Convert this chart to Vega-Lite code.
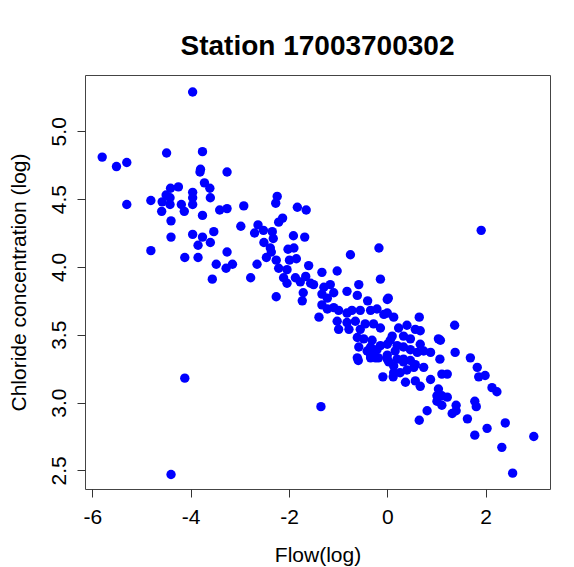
{
  "$schema": "https://vega.github.io/schema/vega-lite/v6.json",
  "autosize": "none",
  "width": 465,
  "height": 414,
  "padding": {"left": 85, "top": 75, "right": 24, "bottom": 78},
  "background": "white",
  "title": {
    "text": "Station 17003700302",
    "font": "Liberation Sans",
    "fontSize": 28,
    "fontWeight": "bold",
    "color": "black",
    "anchor": "middle",
    "offset": 14
  },
  "data": {
    "values": [
      {"flow": -3.96, "chloride": 5.29}, {"flow": -5.80, "chloride": 4.81}, {"flow": -5.51, "chloride": 4.74},
      {"flow": -5.30, "chloride": 4.77}, {"flow": -4.49, "chloride": 4.84}, {"flow": -3.76, "chloride": 4.85},
      {"flow": -3.80, "chloride": 4.72}, {"flow": -3.81, "chloride": 4.70}, {"flow": -3.26, "chloride": 4.70},
      {"flow": -3.72, "chloride": 4.62}, {"flow": -3.61, "chloride": 4.58}, {"flow": -3.60, "chloride": 4.51},
      {"flow": -3.96, "chloride": 4.55}, {"flow": -3.96, "chloride": 4.51}, {"flow": -3.96, "chloride": 4.46},
      {"flow": -4.25, "chloride": 4.59}, {"flow": -4.41, "chloride": 4.58}, {"flow": -4.50, "chloride": 4.53},
      {"flow": -4.42, "chloride": 4.51}, {"flow": -4.58, "chloride": 4.48}, {"flow": -4.81, "chloride": 4.49},
      {"flow": -5.30, "chloride": 4.46}, {"flow": -4.19, "chloride": 4.46}, {"flow": -4.42, "chloride": 4.46},
      {"flow": -3.41, "chloride": 4.42}, {"flow": -3.26, "chloride": 4.43}, {"flow": -4.59, "chloride": 4.41},
      {"flow": -4.13, "chloride": 4.41}, {"flow": -3.76, "chloride": 4.38}, {"flow": -4.40, "chloride": 4.34},
      {"flow": -4.40, "chloride": 4.22}, {"flow": -3.96, "chloride": 4.24}, {"flow": -3.76, "chloride": 4.22},
      {"flow": -3.85, "chloride": 4.16}, {"flow": -3.60, "chloride": 4.18}, {"flow": -3.53, "chloride": 4.26},
      {"flow": -4.81, "chloride": 4.12}, {"flow": -4.12, "chloride": 4.07}, {"flow": -3.85, "chloride": 4.07},
      {"flow": -3.26, "chloride": 4.11}, {"flow": -3.48, "chloride": 4.02}, {"flow": -3.28, "chloride": 3.99},
      {"flow": -3.15, "chloride": 4.02}, {"flow": -3.56, "chloride": 3.91}, {"flow": -4.12, "chloride": 3.18},
      {"flow": -4.40, "chloride": 2.47},
      {"flow": -2.92, "chloride": 4.45}, {"flow": -2.24, "chloride": 4.52}, {"flow": -2.27, "chloride": 4.47},
      {"flow": -1.83, "chloride": 4.44}, {"flow": -1.65, "chloride": 4.42}, {"flow": -2.98, "chloride": 4.30},
      {"flow": -2.63, "chloride": 4.31}, {"flow": -2.70, "chloride": 4.25}, {"flow": -2.52, "chloride": 4.27},
      {"flow": -2.34, "chloride": 4.26}, {"flow": -2.21, "chloride": 4.33}, {"flow": -2.13, "chloride": 4.36},
      {"flow": -2.32, "chloride": 4.21}, {"flow": -2.51, "chloride": 4.18}, {"flow": -1.91, "chloride": 4.23},
      {"flow": -1.68, "chloride": 4.22}, {"flow": -2.38, "chloride": 4.14}, {"flow": -2.36, "chloride": 4.11},
      {"flow": -2.02, "chloride": 4.13}, {"flow": -1.90, "chloride": 4.14}, {"flow": -2.46, "chloride": 4.07},
      {"flow": -2.65, "chloride": 4.02}, {"flow": -2.26, "chloride": 4.05}, {"flow": -1.99, "chloride": 4.05},
      {"flow": -1.85, "chloride": 4.06}, {"flow": -2.04, "chloride": 3.98}, {"flow": -1.33, "chloride": 3.96},
      {"flow": -1.02, "chloride": 3.97},
      {"flow": -0.75, "chloride": 4.09}, {"flow": -0.17, "chloride": 4.14}, {"flow": -1.60, "chloride": 4.01},
      {"flow": -2.11, "chloride": 3.92}, {"flow": -2.04, "chloride": 3.88}, {"flow": -1.87, "chloride": 3.92},
      {"flow": -1.77, "chloride": 3.89}, {"flow": -1.56, "chloride": 3.88}, {"flow": -1.50, "chloride": 3.87},
      {"flow": -0.58, "chloride": 3.87}, {"flow": -0.14, "chloride": 3.91}, {"flow": -1.71, "chloride": 3.81},
      {"flow": -1.73, "chloride": 3.75}, {"flow": -1.29, "chloride": 3.85}, {"flow": -1.16, "chloride": 3.87},
      {"flow": -1.33, "chloride": 3.80}, {"flow": -1.22, "chloride": 3.77}, {"flow": -1.09, "chloride": 3.81},
      {"flow": -0.82, "chloride": 3.82}, {"flow": -0.61, "chloride": 3.79}, {"flow": -0.40, "chloride": 3.75},
      {"flow": 0.00, "chloride": 3.76}, {"flow": -1.33, "chloride": 3.72}, {"flow": -1.22, "chloride": 3.69},
      {"flow": -1.09, "chloride": 3.70}, {"flow": -0.99, "chloride": 3.68}, {"flow": -1.39, "chloride": 3.63},
      {"flow": -0.82, "chloride": 3.66}, {"flow": -0.72, "chloride": 3.68}, {"flow": -0.55, "chloride": 3.68},
      {"flow": -0.34, "chloride": 3.68}, {"flow": -0.21, "chloride": 3.69}, {"flow": -0.07, "chloride": 3.65},
      {"flow": -1.02, "chloride": 3.60}, {"flow": -0.99, "chloride": 3.54}, {"flow": -0.82, "chloride": 3.59},
      {"flow": -0.65, "chloride": 3.60}, {"flow": -0.55, "chloride": 3.54}, {"flow": -0.45, "chloride": 3.58},
      {"flow": -0.28, "chloride": 3.58}, {"flow": -0.14, "chloride": 3.55}, {"flow": -0.61, "chloride": 3.48},
      {"flow": -0.48, "chloride": 3.47}, {"flow": -0.31, "chloride": 3.46}, {"flow": -0.58, "chloride": 3.41},
      {"flow": -0.41, "chloride": 3.38}, {"flow": -0.21, "chloride": 3.39}, {"flow": -0.61, "chloride": 3.33},
      {"flow": -0.24, "chloride": 3.33}, {"flow": 0.00, "chloride": 3.35},
      {"flow": 0.02, "chloride": 3.77}, {"flow": 0.00, "chloride": 3.66}, {"flow": 0.13, "chloride": 3.63},
      {"flow": 0.65, "chloride": 3.63}, {"flow": 1.37, "chloride": 3.57}, {"flow": 0.23, "chloride": 3.55},
      {"flow": 0.40, "chloride": 3.57}, {"flow": 0.57, "chloride": 3.54}, {"flow": 0.67, "chloride": 3.53},
      {"flow": 0.10, "chloride": 3.49}, {"flow": 0.33, "chloride": 3.49}, {"flow": 0.47, "chloride": 3.47},
      {"flow": 1.04, "chloride": 3.47}, {"flow": -0.14, "chloride": 3.42}, {"flow": 0.06, "chloride": 3.46},
      {"flow": 0.20, "chloride": 3.42}, {"flow": 0.33, "chloride": 3.41}, {"flow": 0.47, "chloride": 3.39},
      {"flow": 0.67, "chloride": 3.43}, {"flow": 0.61, "chloride": 3.37}, {"flow": 0.74, "chloride": 3.38},
      {"flow": 0.88, "chloride": 3.37}, {"flow": 1.38, "chloride": 3.37}, {"flow": 1.69, "chloride": 3.33},
      {"flow": -0.28, "chloride": 3.37}, {"flow": -0.18, "chloride": 3.33}, {"flow": 0.00, "chloride": 3.32},
      {"flow": 0.20, "chloride": 3.32}, {"flow": 0.33, "chloride": 3.32},
      {"flow": -0.34, "chloride": 3.41}, {"flow": 0.00, "chloride": 3.43}, {"flow": 0.16, "chloride": 3.38},
      {"flow": 1.08, "chloride": 3.46}, {"flow": 1.83, "chloride": 3.26}, {"flow": -0.34, "chloride": 3.35},
      {"flow": 0.03, "chloride": 3.30}, {"flow": 0.13, "chloride": 3.27}, {"flow": 0.33, "chloride": 3.30},
      {"flow": 0.47, "chloride": 3.31}, {"flow": 0.57, "chloride": 3.28}, {"flow": 0.74, "chloride": 3.26},
      {"flow": 0.13, "chloride": 3.22}, {"flow": 0.26, "chloride": 3.22}, {"flow": 0.40, "chloride": 3.24},
      {"flow": 0.54, "chloride": 3.26}, {"flow": 1.07, "chloride": 3.32}, {"flow": -0.09, "chloride": 3.19},
      {"flow": 0.12, "chloride": 3.19}, {"flow": 0.37, "chloride": 3.15}, {"flow": 0.57, "chloride": 3.16},
      {"flow": 0.67, "chloride": 3.12}, {"flow": 0.88, "chloride": 3.17}, {"flow": 1.11, "chloride": 3.21},
      {"flow": 1.22, "chloride": 3.21}, {"flow": 1.86, "chloride": 3.19}, {"flow": 1.99, "chloride": 3.20},
      {"flow": 2.13, "chloride": 3.11}, {"flow": 2.23, "chloride": 3.08}, {"flow": 1.04, "chloride": 3.10},
      {"flow": 1.01, "chloride": 3.05}, {"flow": 1.11, "chloride": 3.05}, {"flow": 1.22, "chloride": 3.04},
      {"flow": 1.01, "chloride": 3.01}, {"flow": 1.11, "chloride": 2.98}, {"flow": 1.40, "chloride": 2.98},
      {"flow": 1.40, "chloride": 2.94}, {"flow": 1.32, "chloride": 2.92}, {"flow": 1.78, "chloride": 3.01},
      {"flow": 1.81, "chloride": 2.97}, {"flow": 0.81, "chloride": 2.94}, {"flow": 0.65, "chloride": 2.87},
      {"flow": 1.63, "chloride": 2.88}, {"flow": 2.40, "chloride": 2.85}, {"flow": 2.03, "chloride": 2.81},
      {"flow": 1.78, "chloride": 2.76}, {"flow": 2.98, "chloride": 2.75}, {"flow": 2.33, "chloride": 2.67},
      {"flow": 2.55, "chloride": 2.48},
      {"flow": 1.91, "chloride": 4.27}, {"flow": -1.35, "chloride": 2.97}, {"flow": -2.78, "chloride": 3.92},
      {"flow": -2.26, "chloride": 3.78}, {"flow": -2.21, "chloride": 3.99}, {"flow": -1.66, "chloride": 3.93},
      {"flow": -0.78, "chloride": 3.54}, {"flow": -0.59, "chloride": 3.31}, {"flow": -0.34, "chloride": 3.33}
    ]
  },
  "mark": {"type": "point", "filled": true, "shape": "circle", "size": 88, "color": "#0000ff", "opacity": 1},
  "encoding": {
    "x": {
      "field": "flow",
      "type": "quantitative",
      "title": "Flow(log)",
      "scale": {"domain": [-6.15, 3.31], "nice": false, "zero": false},
      "axis": {"values": [-6, -4, -2, 0, 2], "labelExpr": "datum.value + ''", "titlePadding": 17}
    },
    "y": {
      "field": "chloride",
      "type": "quantitative",
      "title": "Chloride concentration (log)",
      "scale": {"domain": [2.363, 5.415], "nice": false, "zero": false},
      "axis": {
        "values": [2.5, 3, 3.5, 4, 4.5, 5],
        "format": ".1f",
        "labelAngle": -90,
        "labelAlign": "center",
        "labelBaseline": "alphabetic",
        "labelPadding": 12,
        "titlePadding": 19
      }
    }
  },
  "config": {
    "view": {"stroke": "#444444", "strokeWidth": 1},
    "axis": {
      "grid": false,
      "domain": false,
      "ticks": true,
      "tickSize": 8,
      "tickColor": "#333333",
      "tickWidth": 1,
      "labelFont": "Liberation Sans",
      "labelFontSize": 21,
      "labelColor": "black",
      "labelPadding": 9,
      "labelFlush": false,
      "labelOverlap": false,
      "titleFont": "Liberation Sans",
      "titleFontSize": 21,
      "titleFontWeight": "normal",
      "titleColor": "black"
    }
  }
}
